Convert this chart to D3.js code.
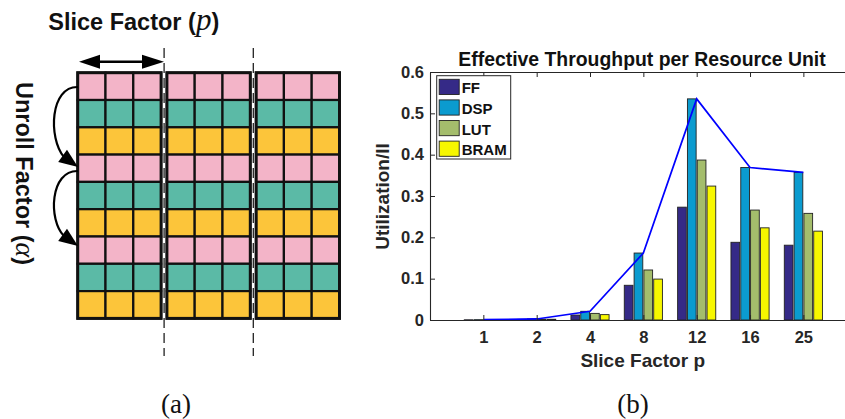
<!DOCTYPE html>
<html>
<head>
<meta charset="utf-8">
<script src="https://cdn.jsdelivr.net/npm/d3@7"></script>
<style>
  html, body { margin: 0; padding: 0; background: #fff; }
  svg { display: block; font-family: "Liberation Sans", Arial, Helvetica, sans-serif; }
</style>
</head>
<body>
<svg id="fig" width="845" height="419"></svg>
<script>
// ---- chart data ----
const categories = ["1", "2", "4", "8", "12", "16", "25"];
const seriesNames = ["FF", "DSP", "LUT", "BRAM"];
const ffValues   = [0.0005, 0.0015, 0.012, 0.084, 0.273, 0.188, 0.181];
const dspValues  = [0.0008, 0.0025, 0.021, 0.162, 0.535, 0.369, 0.357];
const lutValues  = [0.0006, 0.0020, 0.016, 0.121, 0.387, 0.266, 0.258];
const bramValues = [0.0004, 0.0018, 0.013, 0.099, 0.324, 0.223, 0.215];
const yTicks = [0, 0.1, 0.2, 0.3, 0.4, 0.5, 0.6];

// ---- diagram data ----
const blockCount = 3;
const blockCols = 3;
const rowKinds = ["pink", "teal", "yellow", "pink", "teal", "yellow", "pink", "teal", "yellow"];

const serif = "'Liberation Serif', 'Times New Roman', serif";
const sans = "'Liberation Sans', Arial, Helvetica, sans-serif";

const svg = d3.select("#fig");

// =================== (a) slice / unroll diagram ===================
const cellColor = { pink: "#f3b4c8", teal: "#5bbaa6", yellow: "#fcc53a" };
const blockX = d3.scaleLinear().domain([0, 1]).range([77.7, 166.9]); // block origin
const blockW = 83.4, blockTop = 72.7, blockH = 245.7;
const colX = d3.scaleLinear().domain([0, blockCols]).range([0, blockW]);
const rowY = d3.scaleLinear().domain([0, rowKinds.length]).range([0, blockH]);

const diag = svg.append("g").attr("class", "diagram");

// dashed separators between slices
diag.selectAll("line.sep").data([1, 2]).join("line")
  .attr("class", "sep")
  .attr("x1", d => blockX(d) - 2.8).attr("x2", d => blockX(d) - 2.8)
  .attr("y1", 48).attr("y2", 356)
  .attr("stroke", "#222").attr("stroke-width", 1.3)
  .attr("stroke-dasharray", "10,5");

const blocks = diag.selectAll("g.block").data(d3.range(blockCount)).join("g")
  .attr("class", "block")
  .attr("transform", d => `translate(${blockX(d)},${blockTop})`);

blocks.each(function () {
  const g = d3.select(this);
  const cells = [];
  rowKinds.forEach((k, r) => { for (let c = 0; c < blockCols; c++) cells.push({ r, c, k }); });
  g.selectAll("rect.cell").data(cells).join("rect")
    .attr("class", "cell")
    .attr("x", d => colX(d.c)).attr("y", d => rowY(d.r))
    .attr("width", colX(1) - colX(0)).attr("height", rowY(1) - rowY(0))
    .attr("fill", d => cellColor[d.k])
    .attr("stroke", "#111").attr("stroke-width", 2.2);
  g.append("rect")
    .attr("x", 0).attr("y", 0).attr("width", blockW).attr("height", blockH)
    .attr("fill", "none").attr("stroke", "#111").attr("stroke-width", 3);
});

function arrowHead(g, tip, angle, len, half) {
  const ca = Math.cos(angle), sa = Math.sin(angle);
  const bx = tip[0] - ca * len, by = tip[1] - sa * len;
  const pts = [tip, [bx - sa * half, by + ca * half], [bx + sa * half, by - ca * half]];
  g.append("polygon").attr("points", pts.map(p => p.join(",")).join(" ")).attr("fill", "#000");
}

// slice-width double arrow
const arrowY = 61.7;
diag.append("line").attr("x1", 90).attr("x2", 152).attr("y1", arrowY).attr("y2", arrowY)
  .attr("stroke", "#000").attr("stroke-width", 2.5);
arrowHead(diag, [79, arrowY], Math.PI, 21, 7);
arrowHead(diag, [164, arrowY], 0, 22, 7);

// unroll curved arrows
const curves = [
  { p: "M78,87 C50,86 48,138 64,157", tip: [78, 167], from: [60, 154] },
  { p: "M78,171 C50,170 48,220 64,236", tip: [78, 246], from: [60, 233] }
];
curves.forEach(cv => {
  diag.append("path").attr("d", cv.p).attr("fill", "none")
    .attr("stroke", "#000").attr("stroke-width", 2.2);
  arrowHead(diag, cv.tip, Math.atan2(cv.tip[1] - cv.from[1], cv.tip[0] - cv.from[0]), 19, 7.5);
});

// diagram labels
const sliceLbl = diag.append("text").attr("x", 48.3).attr("y", 29.5)
  .style("font-family", sans)
  .attr("font-size", 23.5).attr("font-weight", "bold").attr("fill", "#111");
sliceLbl.append("tspan").text("Slice Factor (");
sliceLbl.append("tspan").text("p").style("font-family", serif)
  .attr("font-style", "italic").attr("font-weight", "normal").attr("font-size", 31);
sliceLbl.append("tspan").text(")");

const unrollLbl = diag.append("text")
  .attr("transform", "translate(15.5,173.5) rotate(90)")
  .attr("text-anchor", "middle").style("font-family", sans)
  .attr("font-size", 23.5).attr("font-weight", "bold").attr("fill", "#111");
unrollLbl.append("tspan").text("Unroll Factor (");
unrollLbl.append("tspan").text("α").style("font-family", serif)
  .attr("font-style", "italic").attr("font-weight", "normal").attr("font-size", 28);
unrollLbl.append("tspan").text(")");

svg.append("text").attr("x", 176).attr("y", 413).attr("text-anchor", "middle")
  .style("font-family", serif)
  .attr("font-size", 27).attr("fill", "#111").text("(a)");

// =================== (b) grouped bar chart ===================
const x = d3.scaleLinear().domain([0, 8]).range([430, 856.7]);
const y = d3.scaleLinear().domain([0, 0.6]).range([320, 72]);
const axisColor = "#262626";
const seriesColor = { FF: "#352a87", DSP: "#0b9bcf", LUT: "#a4bd6c", BRAM: "#f7f700" };
const seriesVals = { FF: ffValues, DSP: dspValues, LUT: lutValues, BRAM: bramValues };
const barStep = 0.184, barW = 0.163;
const offset = d3.scaleLinear().domain([0, 3]).range([-1.5 * barStep, 1.5 * barStep]);

const chart = svg.append("g").attr("class", "chart").style("font-family", sans);

// axes
const xAxis = d3.axisBottom(x).tickValues(d3.range(1, categories.length + 1))
  .tickFormat(i => categories[i - 1]).tickSizeInner(-5).tickSizeOuter(0).tickPadding(11);
const xTop = d3.axisTop(x).tickValues(d3.range(1, categories.length + 1))
  .tickFormat("").tickSizeInner(-5).tickSizeOuter(0);
const yAxis = d3.axisLeft(y).tickValues(yTicks)
  .tickFormat(d => d === 0 ? "0" : d3.format(".1f")(d)).tickSizeInner(-5).tickSizeOuter(0).tickPadding(6);

function styleAxis(g) {
  g.attr("font-family", null);
  g.select(".domain").attr("stroke", axisColor).attr("stroke-width", 1.1);
  g.selectAll(".tick line").attr("stroke", axisColor).attr("stroke-width", 1);
  g.selectAll(".tick text").attr("fill", axisColor)
    .style("font-family", sans)
    .attr("font-size", 16.5).attr("font-weight", "bold");
}

// bars
const barData = [];
seriesNames.forEach((s, si) => {
  seriesVals[s].forEach((v, ci) => barData.push({ s, si, ci, v }));
});
chart.append("g").selectAll("rect").data(barData).join("rect")
  .attr("x", d => x(d.ci + 1 + offset(d.si) - barW / 2))
  .attr("width", x(barW) - x(0))
  .attr("y", d => y(d.v))
  .attr("height", d => y(0) - y(d.v))
  .attr("fill", d => seriesColor[d.s])
  .attr("stroke", "#222").attr("stroke-width", 0.9);

// DSP trend line
chart.append("path")
  .datum(dspValues)
  .attr("d", d3.line().x((d, i) => x(i + 1)).y(d => y(d)))
  .attr("fill", "none").attr("stroke", "#0000ff").attr("stroke-width", 1.7);

chart.append("g").attr("transform", `translate(0,${y(0)})`).call(xAxis).call(styleAxis);
chart.append("g").attr("transform", `translate(0,${y(0.6)})`).call(xTop).call(styleAxis);
chart.append("g").attr("transform", `translate(${x(0)},0)`).call(yAxis).call(styleAxis);

// titles
chart.append("text").attr("x", 642).attr("y", 66).attr("text-anchor", "middle")
  .attr("font-size", 19.4).attr("font-weight", "bold").attr("fill", "#111")
  .text("Effective Throughput per Resource Unit");
chart.append("text").attr("x", 642.7).attr("y", 366.5).attr("text-anchor", "middle")
  .attr("font-size", 19).attr("font-weight", "bold").attr("fill", axisColor)
  .text("Slice Factor p");
chart.append("text").attr("transform", "translate(389,196.5) rotate(-90)").attr("text-anchor", "middle")
  .attr("font-size", 19).attr("font-weight", "bold").attr("fill", axisColor)
  .text("Utilization/II");

// legend
const legend = chart.append("g").attr("transform", "translate(436.7,75.7)");
legend.append("rect").attr("width", 74).attr("height", 83.3)
  .attr("fill", "#fff").attr("stroke", axisColor).attr("stroke-width", 1);
const li = legend.selectAll("g.item").data(seriesNames).join("g")
  .attr("class", "item")
  .attr("transform", (d, i) => `translate(0,${3.6 + i * 20.6})`);
li.append("rect").attr("x", 2.5).attr("width", 20).attr("height", 15.2)
  .attr("fill", d => seriesColor[d]).attr("stroke", "#222").attr("stroke-width", 0.9);
li.append("text").attr("x", 25).attr("y", 14)
  .attr("font-size", 15).attr("font-weight", "bold").attr("fill", "#111").text(d => d);

svg.append("text").attr("x", 633).attr("y", 413).attr("text-anchor", "middle")
  .style("font-family", serif)
  .attr("font-size", 27).attr("fill", "#111").text("(b)");
</script>
</body>
</html>
